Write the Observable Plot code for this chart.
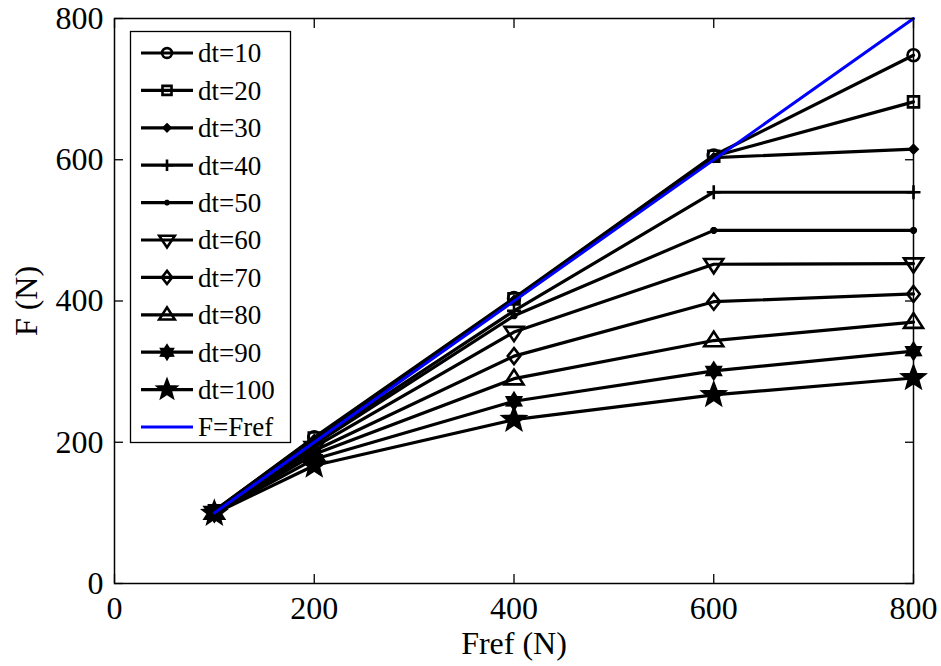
<!DOCTYPE html>
<html><head><meta charset="utf-8">
<script src="https://cdn.jsdelivr.net/npm/d3@7"></script>
<script src="https://cdn.jsdelivr.net/npm/@observablehq/plot@0.6"></script>
<style>
body{margin:0;background:#fff;}
#wrap{position:relative;width:941px;height:666px;font-family:"Liberation Serif","Times New Roman",serif;}
#legend{position:absolute;left:0;top:0;pointer-events:none;}
</style></head><body><div id="wrap"></div>
<script>
// ---- data ----
const fref = [100, 200, 400, 600, 800];
const seriesNames = ["dt=10","dt=20","dt=30","dt=40","dt=50","dt=60","dt=70","dt=80","dt=90","dt=100"];
const dt10  = [103, 207, 404, 606, 748];
const dt20  = [103, 206, 403, 605, 682];
const dt30  = [102, 204, 401, 603, 615];
const dt40  = [102, 200, 386, 554, 554];
const dt50  = [101, 197, 379, 500, 500];
const dt60  = [101, 193, 356, 452, 453];
const dt70  = [101, 188, 322, 399, 410];
const dt80  = [100, 183, 290, 344, 370];
const dt90  = [100, 176, 258, 301, 329];
const dt100 = [99, 167, 232, 267, 291];
const refName = "F=Fref";
const refX = [100, 800];
const refY = [100, 800];
const xTicks = [0, 200, 400, 600, 800];
const yTicks = [0, 200, 400, 600, 800];
const xLabel = "Fref (N)";
const yLabel = "F (N)";

const seriesValues = [dt10, dt20, dt30, dt40, dt50, dt60, dt70, dt80, dt90, dt100];
const rows = seriesNames.flatMap((s, i) => fref.map((x, j) => ({series: s, fref: x, f: seriesValues[i][j]})));
const refRows = refX.map((x, j) => ({series: refName, fref: x, f: refY[j]}));

// ---- marker symbols ----
function mk(fn){ return {draw(ctx, size){ fn(ctx, Math.sqrt(size / Math.PI)); }}; }
function starPath(c, r, n, inner){
  for (let k = 0; k < 2*n; k++){
    const rr = k % 2 ? r*inner : r;
    const a = -Math.PI/2 + k*Math.PI/n;
    const x = rr*Math.cos(a), y = rr*Math.sin(a);
    if (k) c.lineTo(x, y); else c.moveTo(x, y);
  }
  c.closePath();
}
const symCircle = mk((c,r)=>{c.moveTo(r,0); c.arc(0,0,r,0,2*Math.PI); c.closePath();});
const symSquare = mk((c,r)=>{c.moveTo(-r,-r); c.lineTo(r,-r); c.lineTo(r,r); c.lineTo(-r,r); c.closePath();});
const symDot = mk((c,r)=>{c.moveTo(0,-r); c.lineTo(r,0); c.lineTo(0,r); c.lineTo(-r,0); c.closePath();});
const symPlus = mk((c,r)=>{c.moveTo(-r,0); c.lineTo(r,0); c.moveTo(0,-r); c.lineTo(0,r);});
const symAst = mk((c,r)=>{ for (let k=0;k<4;k++){ const a=k*Math.PI/4; c.moveTo(-r*Math.cos(a),-r*Math.sin(a)); c.lineTo(r*Math.cos(a),r*Math.sin(a)); } });
const symTriDown = mk((c,r)=>{c.moveTo(-r,-r*0.55); c.lineTo(r,-r*0.55); c.lineTo(0,r*0.95); c.closePath();});
const symDiamond = mk((c,r)=>{c.moveTo(0,-r); c.lineTo(r*0.78,0); c.lineTo(0,r); c.lineTo(-r*0.78,0); c.closePath();});
const symTriUp = mk((c,r)=>{c.moveTo(-r,r*0.6); c.lineTo(r,r*0.6); c.lineTo(0,-r*0.95); c.closePath();});
const symHex = mk((c,r)=>starPath(c, r, 6, 0.6));
const symPent = mk((c,r)=>starPath(c, r, 5, 0.42));

const markerStyles = [
  {symbol: symCircle, r: 6, fill: "none"},
  {symbol: symSquare, r: 5.5, fill: "none"},
  {symbol: symDot, r: 4, fill: "black"},
  {symbol: symPlus, r: 7, fill: "none"},
  {symbol: symAst, r: 3.5, fill: "none"},
  {symbol: symTriDown, r: 9.5, fill: "none"},
  {symbol: symDiamond, r: 8, fill: "none"},
  {symbol: symTriUp, r: 9.5, fill: "none"},
  {symbol: symHex, r: 8, fill: "black"},
  {symbol: symPent, r: 11.5, fill: "black"}
];

const FONT = '"Liberation Serif","Times New Roman",serif';

const marks = [
  Plot.line(rows, {x: "fref", y: "f", z: "series", stroke: "black", strokeWidth: 3.2}),
  ...seriesNames.map((s, i) => Plot.dot(rows.filter(d => d.series === s), {
    x: "fref", y: "f", symbol: markerStyles[i].symbol, r: markerStyles[i].r,
    fill: markerStyles[i].fill, stroke: "black", strokeWidth: 2.6
  })),
  Plot.line(refRows, {x: "fref", y: "f", stroke: "#0000ff", strokeWidth: 3}),
  Plot.frame({stroke: "black", strokeWidth: 1.5}),
  Plot.axisX({anchor: "bottom", ticks: xTicks, tickSize: -9, fill: "none", label: null, strokeWidth: 1.3}),
  Plot.axisX({anchor: "top", ticks: xTicks, tickSize: -9, fill: "none", label: null, strokeWidth: 1.3}),
  Plot.axisY({anchor: "left", ticks: yTicks, tickSize: -9, fill: "none", label: null, strokeWidth: 1.3}),
  Plot.axisY({anchor: "right", ticks: yTicks, tickSize: -9, fill: "none", label: null, strokeWidth: 1.3}),
  Plot.axisX({anchor: "bottom", ticks: xTicks, tickSize: 0, tickPadding: 13, label: null, fill: "black"}),
  Plot.axisY({anchor: "left", ticks: yTicks, tickSize: 0, tickPadding: 11, label: null, fill: "black"}),
  Plot.text([xLabel], {frameAnchor: "bottom", dy: 60, lineAnchor: "middle", textAnchor: "middle", text: d => d, fill: "black"}),
  Plot.text([yLabel], {frameAnchor: "left", dx: -88, rotate: -90, lineAnchor: "middle", textAnchor: "middle", text: d => d, fill: "black"})
];

const chart = Plot.plot({
  width: 941, height: 666,
  marginLeft: 114, marginRight: 28, marginTop: 18, marginBottom: 83,
  x: {domain: [0, 800]},
  y: {domain: [0, 800]},
  style: {fontFamily: FONT, fontSize: "32px", background: "white", color: "black", overflow: "visible"},
  marks
});
const wrap = document.getElementById("wrap");
wrap.appendChild(chart);

// ---- legend overlay ----
const lg = d3.select(wrap).append("svg").attr("id", "legend").attr("width", 941).attr("height", 666);
const box = {x: 130.5, y: 31.5, w: 160, h: 411};
lg.append("rect").attr("x", box.x).attr("y", box.y).attr("width", box.w).attr("height", box.h)
  .attr("fill", "white").attr("stroke", "black").attr("stroke-width", 1.3);
const rowY0 = 53, rowStep = 37.4;
const legendItems = seriesNames.map((s, i) => ({name: s, color: "black", style: markerStyles[i]}))
  .concat([{name: refName, color: "#0000ff", style: null}]);
legendItems.forEach((it, i) => {
  const y = rowY0 + i*rowStep;
  const g = lg.append("g");
  g.append("line").attr("x1", 141).attr("x2", 193).attr("y1", y).attr("y2", y)
    .attr("stroke", it.color).attr("stroke-width", 3.2);
  if (it.style) {
    const rr = it.style.r * 0.82;
    g.append("path").attr("transform", `translate(167,${y})`)
      .attr("d", d3.symbol(it.style.symbol, Math.PI*rr*rr)())
      .attr("fill", it.style.fill).attr("stroke", "black").attr("stroke-width", 2.6);
  }
  g.append("text").attr("x", 198).attr("y", y).attr("dy", "0.35em")
    .attr("font-family", FONT).attr("font-size", 27).attr("fill", "black").text(it.name);
});
</script>
</body></html>
